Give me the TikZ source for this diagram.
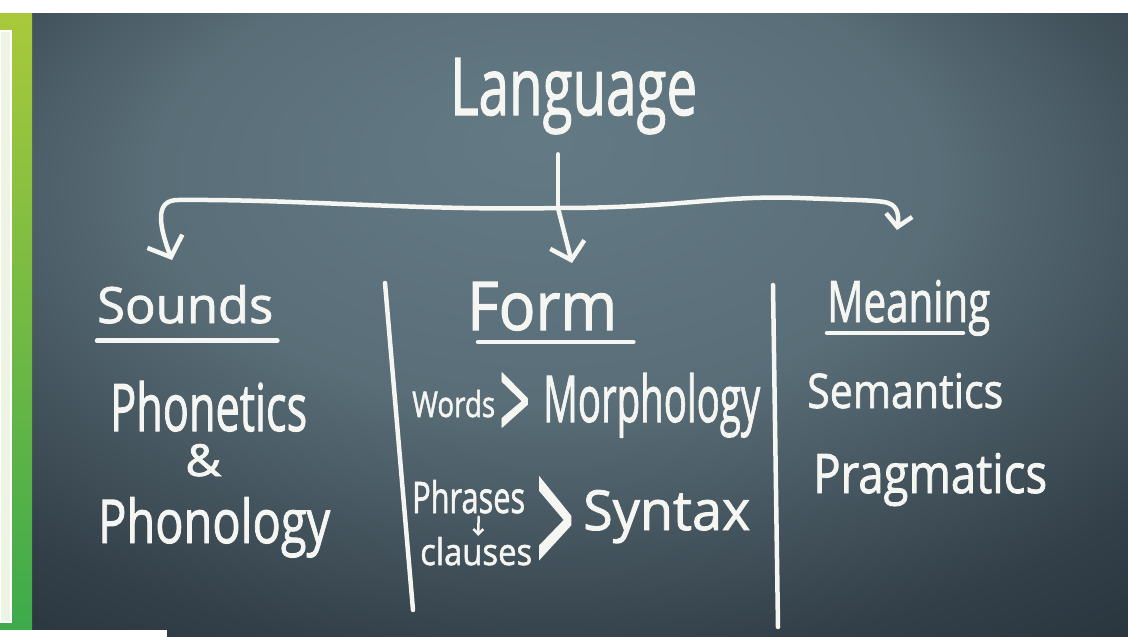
\documentclass[tikz,border=0pt]{standalone}
\usepackage{fontspec}
\usetikzlibrary{arrows.meta}
\newfontfamily\chalkfont[FakeBold=1.6]{Open Sans}
\definecolor{chalk}{HTML}{F5F5F2}
\definecolor{leafTop}{HTML}{A9C93B}
\definecolor{leafBot}{HTML}{3DAA4C}
\definecolor{panel}{HTML}{EEF4E4}
\pgfdeclareradialshading{slate}{\pgfpoint{-2bp}{15bp}}{rgb(0bp)=(0.39,0.48,0.52); rgb(18bp)=(0.35,0.43,0.47); rgb(35bp)=(0.2,0.25,0.285); rgb(50bp)=(0.12,0.16,0.19); rgb(80bp)=(0.1,0.13,0.16)}
\newcommand{\hw}[3]{\resizebox{#1pt}{#2pt}{#3}}

\begin{document}
\begin{tikzpicture}[x=1pt, y=-1pt,
    hand/.style={text=chalk, inner sep=0pt, anchor=base west, font=\chalkfont\fontsize{40}{40}\selectfont},
    chalk line/.style={draw=chalk, line width=4.5pt, line cap=round, line join=round},
    hand tip/.style={-{Straight Barb[length=#1, width=2.2*#1]}}]
    \useasboundingbox (0,0) rectangle (1128,637);

    % backdrop
    \fill[white] (0,0) rectangle (1128,637);
    \shade[shading=slate] (32,13) rectangle (1128,637);
    \shade[top color=leafTop, bottom color=leafBot] (0,13) rectangle (32,630);
    \fill[panel, draw=white, line width=1.5pt] (0,31) rectangle (11,622);
    \fill[white] (0,630) rectangle (167,637);

    % title and the three branches
    \node[hand] (lang) at (450,115) {\hw{247}{57}{Language}};
    \node[hand] (sounds) at (97,323) {\hw{176}{38}{Sounds}};
    \node[hand] (form) at (467,330) {\hw{150}{48}{Form}};
    \node[hand] (meaning) at (827,322) {\hw{163}{42}{Meaning}};

    \coordinate (hub) at (558,208);
    \coordinate (tipS) at (172,260);
    \coordinate (tipF) at (572,263);
    \coordinate (tipM) at (897,230);

    \draw[chalk line, shorten <=20pt] (lang.south -| hub) -- (hub);
    \draw[chalk line, hand tip=16pt] (hub) -- (tipF);
    \draw[chalk line, hand tip=17pt] (hub) .. controls (420,211) and (300,199) .. (178,200)
        .. controls (158,200) and (156,218) .. (tipS);
    \draw[chalk line, hand tip=12pt] (hub) .. controls (680,208) and (720,195) .. (800,198)
        .. controls (850,200) and (880,200) .. (888,203) .. controls (898,206) and (899,216) .. (tipM);

    % underlines
    \draw[chalk line] ([yshift=-17pt]sounds.south west) -- ([xshift=4pt, yshift=-17pt]sounds.south east);
    \draw[chalk line] ([xshift=11pt, yshift=-12pt]form.base west) -- ([xshift=16pt, yshift=-12pt]form.base east);
    \draw[chalk line] ([yshift=-11pt]meaning.base west) -- ++(136,0);

    % column dividers
    \draw[chalk line] (385,283) -- (413,610);
    \draw[chalk line] (773,285) -- (778,627);

    % Sounds column
    \node[hand] (phonetics) at (110,431) {\hw{197}{50}{Phonetics}};
    \node[hand] (amp) at (185,476) {\hw{36}{32}{\&}};
    \node[hand] (phonology) at (98,543) {\hw{232}{46}{Phonology}};

    % Form column
    \node[hand] (words) at (412,417) {\hw{83}{27}{Words}};
    \node[hand] (gtA) at (499,440) {\hw{31}{67}{>}};
    \node[hand] (morph) at (543,422) {\hw{217}{49}{Morphology}};
    \node[hand] (phrases) at (412,513) {\hw{113}{33}{Phrases}};
    \node[hand] (clauses) at (420,565) {\hw{112}{28}{clauses}};
    \node[hand] (gtB) at (536,578) {\hw{38}{100}{>}};
    \node[hand] (syntax) at (583,530) {\hw{167}{40}{Syntax}};
    \draw[draw=chalk, line width=2.5pt, line cap=round, -{Straight Barb[length=5pt, width=10pt]}, shorten <=3pt, shorten >=1pt]
        ([xshift=10pt]phrases.south) -- ([xshift=2pt]clauses.north);

    % Meaning column
    \node[hand] (semantics) at (807,408) {\hw{196}{35}{Semantics}};
    \node[hand] (pragmatics) at (813,493) {\hw{234}{40}{Pragmatics}};
\end{tikzpicture}
\end{document}
